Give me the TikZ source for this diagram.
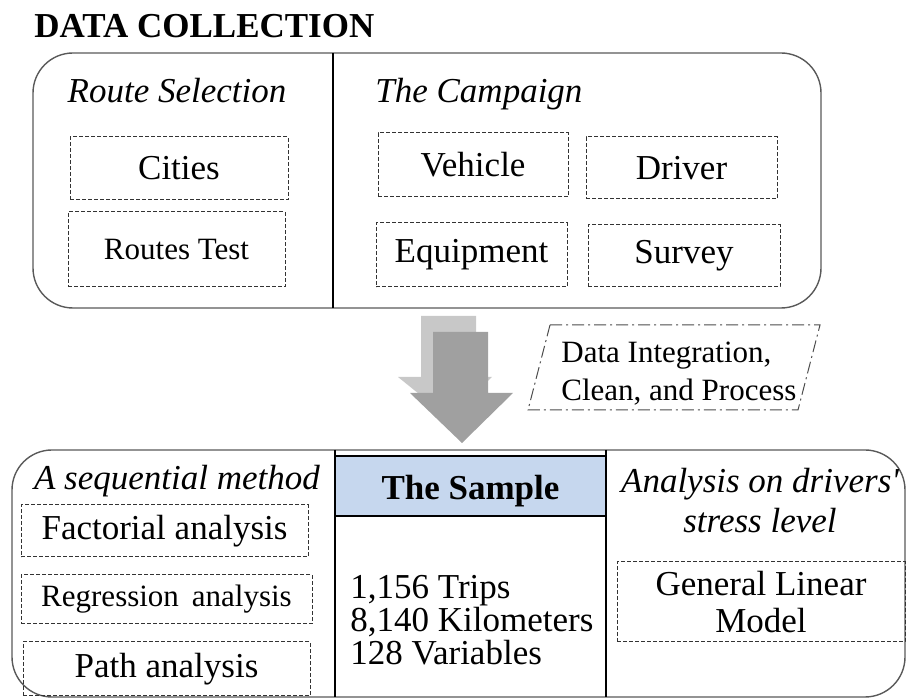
\documentclass[tikz,border=0pt]{standalone}
\usepackage{fontspec}
\setmainfont{Liberation Serif}
\definecolor{samplefill}{RGB}{198,215,238}
\definecolor{arrowgray}{RGB}{160,160,160}
\definecolor{shadegray}{RGB}{200,200,200}
\tikzset{
  dbox/.style={draw=black!80, dash pattern=on 2pt off 1pt, line width=0.5pt, align=center},
  big/.style={font=\fontsize{17.5}{18.5}\selectfont},
  small/.style={font=\fontsize{15.5}{19}\selectfont},
  head/.style={font=\fontsize{17.5}{20}\selectfont\itshape},
  panel/.style={draw=black!65, line width=0.7pt, rounded corners=20pt},
}
\begin{document}
\begin{tikzpicture}[x=0.5pt,y=-0.5pt,every node/.style={inner sep=0pt}]
\useasboundingbox (0,0) rectangle (907,700);
\node[font=\fontsize{17.5}{18}\selectfont\bfseries,anchor=base west] (title) at (34,38) {DATA COLLECTION};
% data collection panel
\draw[panel] (33,53) rectangle (821,308);
\draw[line width=0.8pt] (333,53) -- (333,308);
\node[head,anchor=base] (route) at (177,103) {Route Selection};
\node[head,anchor=base west] (camp) at (375,103) {The Campaign};
\node[dbox,big,minimum width=109pt,minimum height=31.5pt] (cities) at (179,168.5) {Cities};
\node[dbox,small,minimum width=108.5pt,minimum height=37.5pt] (rtest) at (176.5,249.5) {Routes Test};
\node[dbox,big,minimum width=95pt,minimum height=32pt] (vehicle) at (473,165) {Vehicle};
\node[dbox,big,minimum width=95.5pt,minimum height=31pt] (driver) at (681.5,168) {Driver};
\node[dbox,big,minimum width=95.5pt,minimum height=32pt] (equip) at (471.5,255) {Equipment};
\node[dbox,big,minimum width=96pt,minimum height=31pt] (survey) at (684,256) {Survey};
% arrow with its shade
\fill[shadegray] (421,316) -- (476,316) -- (476,377) -- (492,377) -- (450,419) -- (398,377) -- (421,377) -- cycle;
\fill[arrowgray] (433,332) -- (488,332) -- (488,393) -- (513,393) -- (462,443) -- (410,393) -- (433,393) -- cycle;
\node[small,align=left,anchor=west] (integ) at (561,374) {Data Integration,\\Clean, and Process};
\draw[black!70, line width=0.5pt, dash pattern=on 6pt off 2pt on 1pt off 2pt] (550,325) -- (820,325) -- (798,410) -- (528,410) -- cycle;
% analysis panel
\draw[panel] (12,450) rectangle (905,697);
\fill[samplefill] (335,456) rectangle (606,516);
\draw[line width=1.2pt] (335,456) -- (606,456) (335,516) -- (606,516);
\draw[line width=0.9pt] (335,450) -- (335,697) (606,450) -- (606,697);
\node[head,anchor=base] (seq) at (177,490) {A sequential method};
\node[dbox,big,minimum width=143.5pt,minimum height=26pt] (factor) at (164.5,531) {Factorial analysis};
\node[dbox,small,minimum width=145.5pt,minimum height=24.5pt] (regr) at (166.5,599.5) {Regression\, analysis};
\node[dbox,big,minimum width=143.5pt,minimum height=27pt] (path) at (166.5,669) {Path analysis};
\node[font=\fontsize{17.5}{18}\selectfont\bfseries,anchor=base] (sample) at (470.5,500) {The Sample};
\node[font=\fontsize{17.5}{16.5}\selectfont,align=left,anchor=west] (figures) at (350,620) {1,156 Trips\\8,140 Kilometers\\128 Variables};
\node[head,align=center,anchor=base] (stress) at (760,533) {Analysis on drivers\textquotesingle\\stress level};
\node[dbox,font=\fontsize{17.5}{18.5}\selectfont,minimum width=144pt,minimum height=40pt] (glm) at (761,602) {General Linear\\Model};
\end{tikzpicture}
\end{document}
